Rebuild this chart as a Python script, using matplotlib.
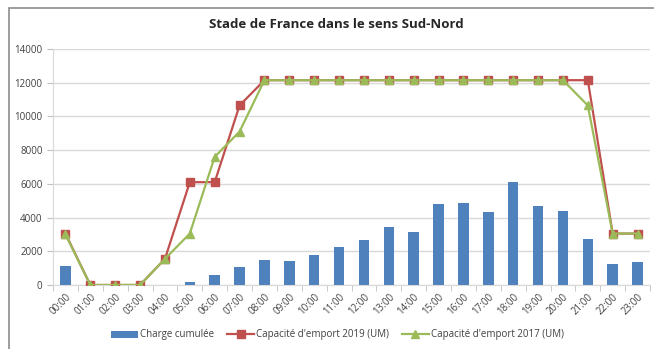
import numpy as np
import matplotlib.pyplot as plt
from matplotlib.patches import Rectangle

heures = [f"{h:02d}:00" for h in range(24)]
charge = [1150, 0, 0, 0, 0, 200, 600, 1050, 1470, 1400, 1800, 2240,
          2690, 3460, 3150, 4830, 4890, 4350, 6110, 4670, 4400, 2750, 1230, 1350]
capa_2019 = [3050, 0, 0, 0, 1550, 6100, 6100, 10650, 12150, 12150, 12150, 12150,
             12150, 12150, 12150, 12150, 12150, 12150, 12150, 12150, 12150, 12150, 3050, 3050]
capa_2017 = [3000, 0, 0, 0, 1550, 3050, 7600, 9100, 12150, 12150, 12150, 12150,
             12150, 12150, 12150, 12150, 12150, 12150, 12150, 12150, 12150, 10650, 3050, 3050]

plt.rcParams['font.family'] = ['Open Sans', 'DejaVu Sans']

fig = plt.figure(figsize=(6.54, 3.49), dpi=100)
# cadre du graphique
fig.patches.append(Rectangle((9 / 654, -0.05), 1.0, 1 - 8 / 349 + 0.05,
                             transform=fig.transFigure, fill=False,
                             edgecolor='#8c8c8c', linewidth=1.2))

ax = fig.add_axes([53 / 654, 1 - 285 / 349, (650 - 53) / 654, (285 - 49) / 349])
x = np.arange(len(heures))

barres = ax.bar(x, charge, width=0.42, color='#4F81BD', label='Charge cumulée', zorder=2)
l19, = ax.plot(x, capa_2019, color='#C0504D', marker='s', markersize=5.5, linewidth=1.6,
               label="Capacité d'emport 2019 (UM)", zorder=3)
l17, = ax.plot(x, capa_2017, color='#9BBB59', marker='^', markersize=6, linewidth=1.6,
               label="Capacité d'emport 2017 (UM)", zorder=4)

ax.set_xlim(-0.5, len(heures) - 0.5)
ax.set_ylim(0, 14000)
ax.set_yticks(np.arange(0, 14001, 2000))
ax.yaxis.grid(True, color='#d9d9d9', linewidth=1)
ax.set_axisbelow(True)

ax.set_xticks(x)
ax.set_xticklabels(heures, rotation=45, ha='right', rotation_mode='anchor',
                   fontsize=7, color='#404040')
ax.set_xticks(np.arange(-0.5, len(heures), 1), minor=True)
ax.tick_params(axis='x', which='major', length=0, pad=5)
ax.tick_params(axis='x', which='minor', length=4, color='#bfbfbf')
ax.tick_params(axis='y', labelsize=7, labelcolor='#404040', length=4, color='#bfbfbf')

for s in ['top', 'right']:
    ax.spines[s].set_visible(False)
ax.spines['left'].set_color('#d9d9d9')
ax.spines['bottom'].set_color('#d9d9d9')

fig.text(0.515, 1 - 25 / 349, 'Stade de France dans le sens Sud-Nord',
         ha='center', va='center', fontsize=9.5, fontweight='bold', color='#262626')

fig.legend([barres, l19, l17], [h.get_label() for h in (barres, l19, l17)],
           loc='center', bbox_to_anchor=(0.516, 1 - 335 / 349), ncol=3, frameon=False,
           fontsize=7, handlelength=2.8, columnspacing=1.3, handletextpad=0.2,
           labelcolor='#404040')

fig.savefig('out.png', dpi=100)
